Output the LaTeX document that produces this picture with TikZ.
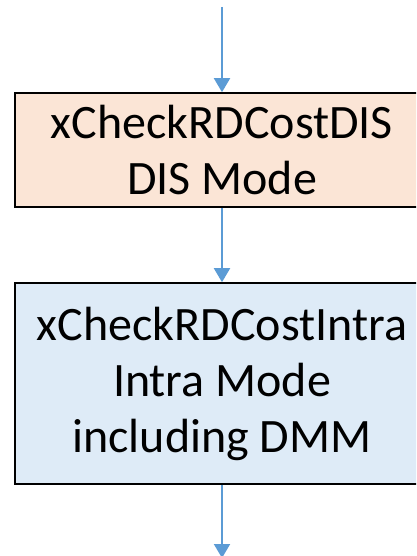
\documentclass[tikz,border=0pt]{standalone}
\usepackage{fontspec}
\setmainfont{Carlito}
\usetikzlibrary{arrows.meta}
\definecolor{peach}{HTML}{FBE5D6}
\definecolor{paleblue}{HTML}{DEEBF7}
\definecolor{arrowblue}{HTML}{5B9BD5}
\begin{document}
\begin{tikzpicture}[x=1pt,y=-1pt,
  box/.style={draw=black, line width=1.6pt, minimum width=414pt, inner sep=0pt,
    align=center, font=\fontsize{48}{56}\selectfont},
  flow/.style={draw=arrowblue, line width=2pt, -{Triangle[width=16pt,length=14pt]}}]
\useasboundingbox (0,0) rectangle (416,556);
\clip (0,0) rectangle (416,556);
\node[box, fill=peach, minimum height=114pt] (dis) at (222,150) {xCheckRDCostDIS\\DIS Mode};
\node[box, fill=paleblue, minimum height=201pt] (intra) at (222,383.5) {xCheckRDCostIntra\\Intra Mode\\including DMM};
\coordinate (start) at (222,7);
\coordinate (finish) at (222,558);
\draw[flow] (start) -- (dis.north);
\draw[flow] (dis.south) -- (intra.north);
\draw[flow] (intra.south) -- (finish);
\end{tikzpicture}
\end{document}
